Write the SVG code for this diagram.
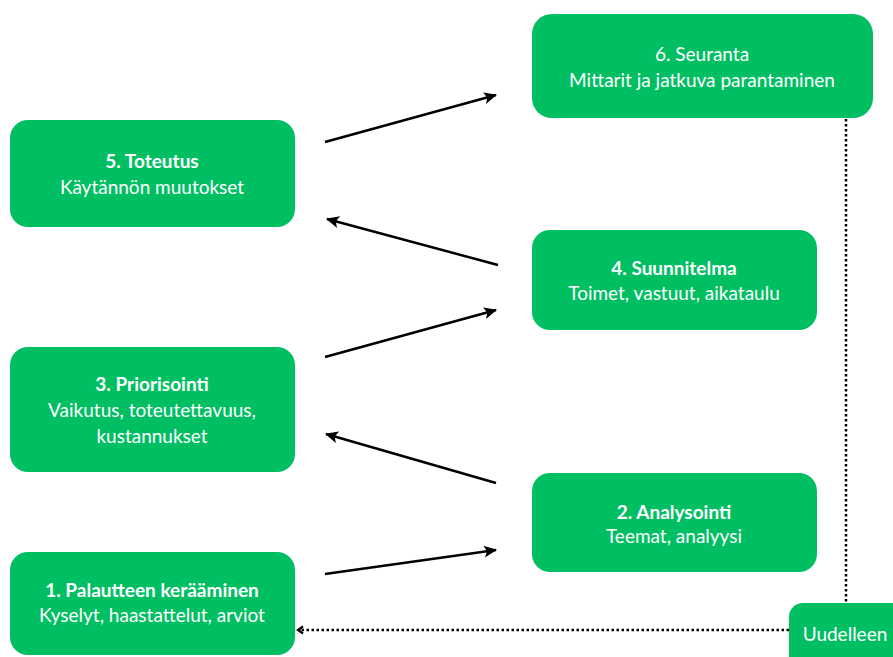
<svg xmlns="http://www.w3.org/2000/svg" width="893" height="657" viewBox="0 0 893 657">
<defs>
<style>
.box{fill:#00BF63;}
.t{font-family:Lato,"Liberation Sans",sans-serif;font-size:19px;fill:#ffffff;text-anchor:middle;}
.b{font-weight:bold;}
.conn{stroke:#000;stroke-width:2.5;fill:none;}
.dot{stroke:#000;stroke-width:2.5;fill:none;stroke-dasharray:2.5 2.5;}
</style>
<marker id="ah" markerUnits="userSpaceOnUse" markerWidth="14" markerHeight="12" refX="12" refY="6" orient="auto">
<path d="M0,0 L13,6 L0,12 L3,6 Z" fill="#000"/>
</marker>
<marker id="open" markerUnits="userSpaceOnUse" markerWidth="10" markerHeight="10" refX="7" refY="5" orient="auto">
<path d="M2,1.5 L7,5 L2,8.5" fill="none" stroke="#000" stroke-width="2.2"/>
</marker>
</defs>
<rect width="893" height="657" fill="#ffffff"/>
<g id="connectors">
<line class="conn" x1="325" y1="142" x2="496" y2="95" marker-end="url(#ah)"/>
<line class="conn" x1="498" y1="265" x2="327" y2="219" marker-end="url(#ah)"/>
<line class="conn" x1="325" y1="357" x2="496" y2="310" marker-end="url(#ah)"/>
<line class="conn" x1="496" y1="483" x2="326" y2="434" marker-end="url(#ah)"/>
<line class="conn" x1="325" y1="574" x2="496" y2="550" marker-end="url(#ah)"/>
<line class="dot" x1="846" y1="119" x2="846" y2="603"/>
<line class="dot" x1="789" y1="630" x2="298" y2="630" marker-end="url(#open)"/>
</g>
<g id="node6">
<rect class="box" x="532" y="14" width="341" height="104" rx="20"/>
<text class="t" x="702" y="61">6. Seuranta</text>
<text class="t" x="702" y="87">Mittarit ja jatkuva parantaminen</text>
</g>
<g id="node5">
<rect class="box" x="10" y="120" width="285" height="107" rx="18"/>
<text class="t b" x="152" y="168">5. Toteutus</text>
<text class="t" x="152" y="194">Käytännön muutokset</text>
</g>
<g id="node4">
<rect class="box" x="532" y="230" width="285" height="100" rx="18"/>
<text class="t b" x="674" y="275">4. Suunnitelma</text>
<text class="t" x="674" y="300">Toimet, vastuut, aikataulu</text>
</g>
<g id="node3">
<rect class="box" x="10" y="347" width="285" height="125" rx="18"/>
<text class="t b" x="152" y="391">3. Priorisointi</text>
<text class="t" x="152" y="417">Vaikutus, toteutettavuus,</text>
<text class="t" x="152" y="443">kustannukset</text>
</g>
<g id="node2">
<rect class="box" x="532" y="473" width="285" height="99" rx="18"/>
<text class="t b" x="674" y="519">2. Analysointi</text>
<text class="t" x="674" y="543">Teemat, analyysi</text>
</g>
<g id="node1">
<rect class="box" x="10" y="552" width="285" height="103" rx="18"/>
<text class="t b" x="152" y="597">1. Palautteen kerääminen</text>
<text class="t" x="152" y="622">Kyselyt, haastattelut, arviot</text>
</g>
<g id="uudelleen">
<rect class="box" x="789" y="603" width="120" height="70" rx="14"/>
<text class="t" x="845" y="641">Uudelleen</text>
</g>
</svg>
